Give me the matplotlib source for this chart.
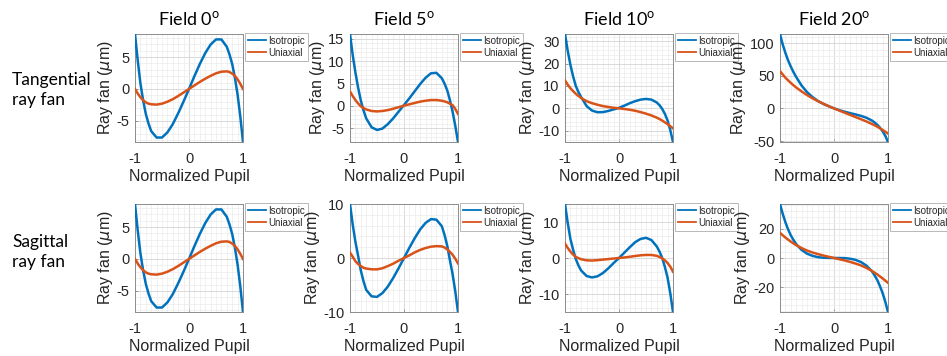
import matplotlib
matplotlib.use("Agg")
import matplotlib.pyplot as plt
from matplotlib.ticker import MultipleLocator

plt.rcParams['axes.unicode_minus'] = False
plt.rcParams['mathtext.fontset'] = 'custom'
plt.rcParams['mathtext.rm'] = 'Lato'
plt.rcParams['mathtext.it'] = 'DejaVu Sans:italic'

# ---------------- data ----------------
pupil = [-1.0, -0.95, -0.9, -0.85, -0.8, -0.75, -0.7, -0.6, -0.5, -0.4, -0.3,
         -0.2, -0.1, 0.0, 0.1, 0.2, 0.3, 0.4, 0.5, 0.6, 0.7, 0.75, 0.8, 0.85,
         0.9, 0.95, 1.0]

field_titles = ['Field 0', 'Field 5', 'Field 10', 'Field 20']
row_labels = ['Tangential\nray fan', 'Sagittal\nray fan']
series_labels = ['Isotropic', 'Uniaxial']

# Tangential ray fan
tan_iso_f0 = [8.6, 4.5, 0.9, -1.75, -3.9, -5.4, -6.6, -7.6, -7.6, -6.8, -5.5,
              -3.8, -1.95, 0.0, 2.0, 3.9, 5.6, 6.95, 7.75, 7.75, 6.6, 5.4, 3.9,
              1.75, -0.9, -4.3, -8.3]
tan_uni_f0 = [0.0, -0.7, -1.3, -1.75, -2.1, -2.3, -2.4, -2.45, -2.3, -2.0, -1.6,
              -1.1, -0.55, 0.0, 0.55, 1.1, 1.6, 2.05, 2.45, 2.7, 2.75, 2.65, 2.4,
              2.05, 1.5, 0.8, 0.0]
tan_iso_f5 = [16.1, 11.4, 7.5, 4.1, 1.2, -1.0, -2.8, -4.8, -5.4, -5.1, -4.1,
              -2.8, -1.3, 0.2, 1.7, 3.3, 4.9, 6.3, 7.3, 7.4, 6.2, 5.0, 3.5,
              1.3, -1.3, -4.5, -8.1]
tan_uni_f5 = [3.2, 2.2, 1.3, 0.55, -0.1, -0.5, -0.8, -1.15, -1.25, -1.15, -0.95,
              -0.65, -0.3, 0.05, 0.35, 0.65, 0.95, 1.15, 1.3, 1.3, 1.15, 1.0, 0.8,
              0.5, 0.15, -0.7, -1.8]
tan_iso_f10 = [33.3, 25.8, 19.5, 14.3, 10.0, 7.2, 5.0, 1.0, -1.0, -1.75, -1.7,
               -1.2, -0.5, 0.2, 1.2, 2.3, 3.2, 3.9, 4.2, 3.9, 2.6, 1.4, -0.3,
               -2.5, -5.5, -9.8, -15.1]
tan_uni_f10 = [12.5, 10.6, 9.0, 7.7, 6.5, 5.5, 4.6, 3.2, 2.3, 1.6, 1.0,
               0.6, 0.25, 0.0, -0.3, -0.65, -1.1, -1.7, -2.4, -3.2, -4.2, -4.8, -5.5,
               -6.3, -7.1, -8.0, -9.0]
tan_iso_f20 = [114.0, 98.0, 85.0, 73.5, 64.0, 55.5, 48.0, 35.0, 25.0, 17.5, 11.5,
               7.0, 3.3, 0.0, -2.8, -5.2, -7.3, -9.3, -11.5, -14.3, -18.5, -21.5, -25.0,
               -29.5, -35.0, -42.0, -51.5]
tan_uni_f20 = [57.0, 52.0, 47.0, 43.0, 39.0, 35.4, 32.0, 26.0, 20.5, 15.5, 11.2,
               7.2, 3.5, 0.0, -3.4, -6.7, -10.0, -13.3, -16.6, -20.0, -23.8, -25.8, -28.0,
               -30.4, -33.0, -35.7, -38.5]

# Sagittal ray fan
sag_iso_f0 = [8.6, 4.5, 0.9, -1.75, -3.9, -5.4, -6.6, -7.6, -7.6, -6.8, -5.5,
              -3.8, -1.95, 0.0, 2.0, 3.9, 5.6, 6.95, 7.75, 7.75, 6.6, 5.4, 3.9,
              1.75, -0.9, -4.3, -8.3]
sag_uni_f0 = [0.0, -0.7, -1.3, -1.75, -2.1, -2.3, -2.4, -2.45, -2.3, -2.0, -1.6,
              -1.1, -0.55, 0.0, 0.55, 1.1, 1.6, 2.05, 2.45, 2.7, 2.75, 2.65, 2.4,
              2.05, 1.5, 0.8, 0.0]
sag_iso_f5 = [10.0, 6.2, 3.0, 0.4, -2.3, -4.3, -5.9, -7.1, -7.2, -6.5, -5.3,
              -3.7, -1.9, 0.0, 1.9, 3.7, 5.3, 6.5, 7.2, 7.1, 5.9, 4.3, 2.3,
              -0.4, -3.0, -6.2, -10.0]
sag_uni_f5 = [1.0, 0.25, -0.6, -1.1, -1.5, -1.8, -1.95, -2.1, -2.1, -1.9, -1.5,
              -1.05, -0.5, 0.0, 0.5, 1.05, 1.5, 1.85, 2.1, 2.2, 2.15, 1.95, 1.6,
              1.15, 0.6, -0.15, -1.0]
sag_iso_f10 = [15.0, 9.8, 5.3, 2.3, -0.3, -2.1, -3.5, -5.0, -5.4, -5.1, -4.2,
               -2.9, -1.4, 0.0, 1.5, 3.0, 4.4, 5.3, 5.6, 5.0, 3.2, 1.8, 0.0,
               -2.5, -5.5, -9.8, -15.0]
sag_uni_f10 = [4.0, 2.8, 1.8, 0.95, 0.3, -0.05, -0.35, -0.65, -0.7, -0.6, -0.45,
               -0.3, -0.15, 0.0, 0.15, 0.35, 0.55, 0.75, 0.85, 0.85, 0.6, 0.3, -0.1,
               -0.65, -1.4, -2.4, -3.8]
sag_iso_f20 = [37.0, 30.3, 24.5, 19.6, 15.5, 12.3, 9.5, 5.5, 3.0, 1.5, 0.6,
               0.2, 0.05, 0.0, 0.0, -0.1, -0.5, -1.3, -2.8, -5.2, -9.0, -11.8, -15.0,
               -19.2, -24.0, -30.0, -37.0]
sag_uni_f20 = [17.2, 15.6, 14.0, 12.6, 11.2, 10.0, 8.8, 6.8, 5.1, 3.8, 2.7,
               1.7, 0.85, 0.0, -0.85, -1.7, -2.7, -3.8, -5.1, -6.8, -8.8, -10.0, -11.2,
               -12.6, -14.0, -15.5, -17.0]

tan_iso = [tan_iso_f0, tan_iso_f5, tan_iso_f10, tan_iso_f20]
tan_uni = [tan_uni_f0, tan_uni_f5, tan_uni_f10, tan_uni_f20]
sag_iso = [sag_iso_f0, sag_iso_f5, sag_iso_f10, sag_iso_f20]
sag_uni = [sag_uni_f0, sag_uni_f5, sag_uni_f10, sag_uni_f20]

# tick steps (major, minor) per panel
tan_steps = [(5, 1), (5, 1), (10, 2), (50, 10)]
sag_steps = [(5, 1), (10, 2), (10, 2), (20, 4)]

# ---------------- styling ----------------
W, H = 947, 356
fig = plt.figure(figsize=(W / 100, H / 100), dpi=100)

blue = '#0072BD'
orange = '#D95319'
txt = '#262626'
tick_font = 'Liberation Sans'
slide_font = 'Lato'

lefts = [135, 350, 565, 780]
tops = [34, 204]
aw, ah = 108, 108

rows = [(tan_iso, tan_uni, tan_steps), (sag_iso, sag_uni, sag_steps)]

for r, (iso_list, uni_list, steps) in enumerate(rows):
    for c in range(4):
        l = lefts[c]
        t = tops[r]
        ax = fig.add_axes([l / W, 1 - (t + ah) / H, aw / W, ah / H])
        iso = iso_list[c]
        uni = uni_list[c]
        ax.plot(pupil, iso, color=blue, lw=1.8, label=series_labels[0], zorder=3)
        ax.plot(pupil, uni, color=orange, lw=1.8, label=series_labels[1], zorder=3)
        ax.set_xlim(-1, 1)
        ax.set_ylim(min(iso + uni), max(iso + uni))
        ax.xaxis.set_major_locator(MultipleLocator(1))
        ax.xaxis.set_minor_locator(MultipleLocator(0.1))
        ax.yaxis.set_major_locator(MultipleLocator(steps[c][0]))
        ax.yaxis.set_minor_locator(MultipleLocator(steps[c][1]))
        ax.grid(True, which='major', color='#d4d4d4', lw=0.6, zorder=0)
        ax.grid(True, which='minor', color='#ececec', lw=0.5, zorder=0)
        ax.set_axisbelow(True)
        ax.tick_params(which='both', direction='in', colors='#8c8c8c',
                       labelcolor=txt, labelsize=10.5)
        ax.tick_params(which='major', length=2.5, width=0.6)
        ax.tick_params(which='minor', length=0)
        ax.tick_params(axis='x', pad=7)
        ax.tick_params(axis='y', pad=4)
        for lab in ax.get_xticklabels() + ax.get_yticklabels():
            lab.set_fontfamily(tick_font)
        for sp in ax.spines.values():
            sp.set_color('#8c8c8c')
            sp.set_linewidth(0.7)
        ax.set_xlabel('Normalized Pupil', fontsize=11.5, color=txt,
                      family=tick_font, labelpad=2)
        ax.set_ylabel(r'Ray fan ($\mu$m)', fontsize=11.5, color=txt,
                      family=tick_font, labelpad=1)
        leg = ax.legend(loc='upper left', bbox_to_anchor=(1.015, 1.01),
                        frameon=True, fancybox=False,
                        handlelength=1.9, handletextpad=0.2,
                        borderpad=0.3, labelspacing=0.2, borderaxespad=0.0,
                        prop={'family': 'Liberation Sans', 'size': 7})
        leg.get_frame().set_edgecolor('#a6a6a6')
        leg.get_frame().set_linewidth(0.7)
        for line in leg.get_lines():
            line.set_linewidth(1.3)
        for t_ in leg.get_texts():
            t_.set_color(txt)
        if r == 0:
            ax.set_title(field_titles[c] + r'$^{\rm o}$', fontsize=13,
                         family=slide_font, color='black', pad=6)

for r, lab in enumerate(row_labels):
    cy = [90, 252][r]
    fig.text(12 / W, 1 - cy / H, lab, fontsize=12.5, family=slide_font,
             color='black', ha='left', va='center', linespacing=1.35)

fig.savefig('out.png', dpi=100)
